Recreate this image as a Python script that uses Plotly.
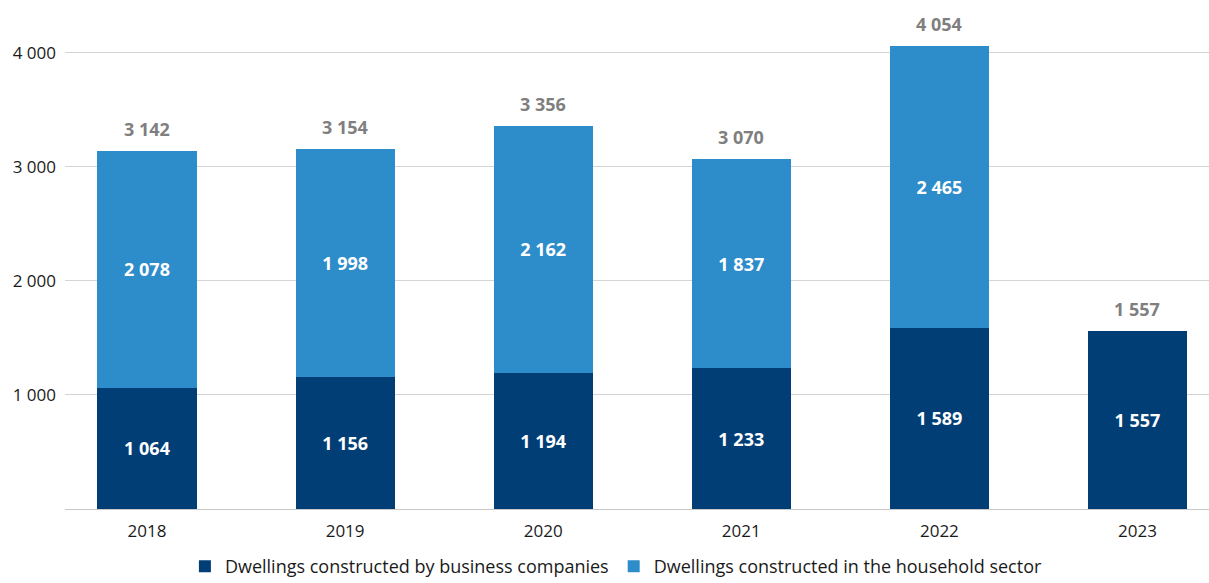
import plotly.graph_objects as go

years = ["2018", "2019", "2020", "2021", "2022", "2023"]
business = [1064, 1156, 1194, 1233, 1589, 1557]
household = [2078, 1998, 2162, 1837, 2465, None]
totals = [3142, 3154, 3356, 3070, 4054, 1557]
y_ticks = [1000, 2000, 3000, 4000]

dark_blue = "#023e76"
light_blue = "#2d8cca"
font_family = "Open Sans, Lato, sans-serif"


def fmt(v):
    return f"{v:,}".replace(",", " ")


fig = go.Figure()

fig.add_trace(go.Bar(
    x=years, y=business, name="Dwellings constructed by business companies",
    marker=dict(color=dark_blue, line=dict(width=0)), width=0.5,
    texttemplate="%{y:,}", textposition="inside", insidetextanchor="middle",
    textfont=dict(color="white", size=18, family=font_family, weight="bold"),
))
fig.add_trace(go.Bar(
    x=years, y=household, name="Dwellings constructed in the household sector",
    marker=dict(color=light_blue, line=dict(width=0)), width=0.5,
    texttemplate="%{y:,}", textposition="inside", insidetextanchor="middle",
    textfont=dict(color="white", size=18, family=font_family, weight="bold"),
))

# Totals above each stack (category index used as x position)
for i, tot in enumerate(totals):
    fig.add_annotation(
        x=i, y=tot, xref="x", yref="y", text=fmt(tot), showarrow=False, yshift=22,
        font=dict(color="#7f7f7f", size=18, family=font_family, weight="bold"),
    )

fig.update_layout(
    barmode="stack",
    separators=". ",
    width=1209, height=583,
    margin=dict(l=65, r=0, t=7, b=74, autoexpand=False),
    plot_bgcolor="white", paper_bgcolor="white",
    font=dict(family=font_family, size=17, color="#1a1a1a"),
    xaxis=dict(
        type="category", range=[-0.414, 5.361], showgrid=False,
        showline=False, ticks="", tickfont=dict(size=17, color="#1a1a1a"),
        ticklabelstandoff=10,
    ),
    yaxis=dict(
        range=[0, 4400], tickvals=y_ticks, tickformat=",",
        showgrid=True, gridcolor="#d4d4d4", gridwidth=1,
        zeroline=True, zerolinecolor="#c8c8c8", zerolinewidth=1,
        ticks="", ticklabelstandoff=8, tickfont=dict(size=17, color="#1a1a1a"),
    ),
    legend=dict(
        orientation="h", x=0.482, xanchor="center",
        yref="paper", y=-0.078, yanchor="top",
        font=dict(size=18, color="#1a1a1a"), traceorder="normal",
        itemwidth=30, tracegroupgap=0,
    ),
)

fig.write_html("out.html")
